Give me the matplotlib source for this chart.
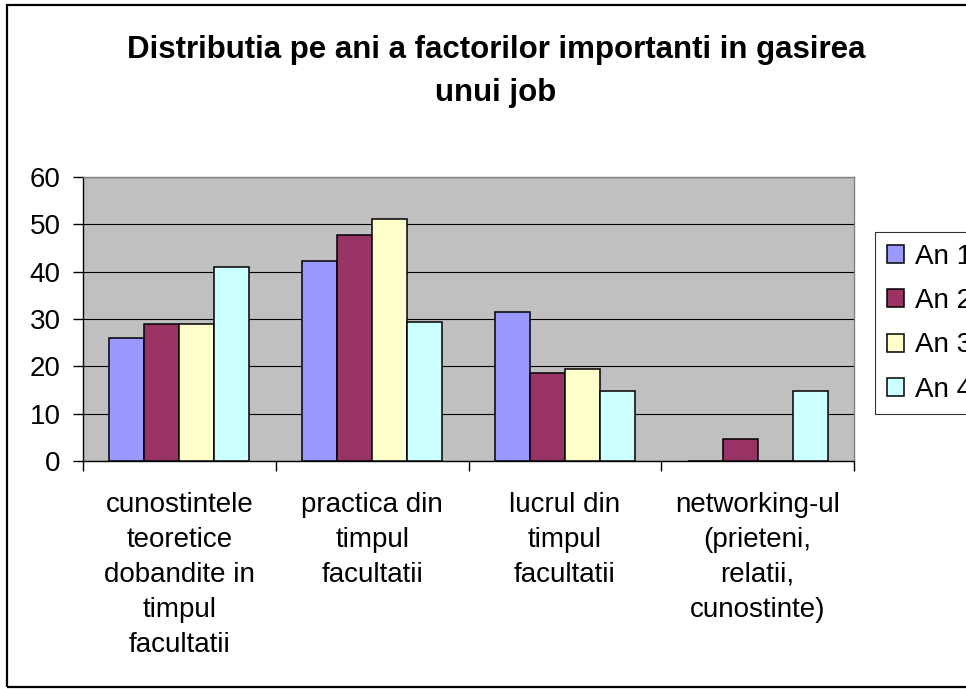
import numpy as np
import matplotlib
matplotlib.use("Agg")
import matplotlib.pyplot as plt
from matplotlib.patches import Rectangle, Patch

# =========================
# DATA
# =========================
categories = [
    "cunostintele\nteoretice\ndobandite in\ntimpul\nfacultatii",
    "practica din\ntimpul\nfacultatii",
    "lucrul din\ntimpul\nfacultatii",
    "networking-ul\n(prieteni,\nrelatii,\ncunostinte)",
]
series_names = ["An 1", "An 2", "An 3", "An 4"]
an1 = [26, 42.3, 31.5, 0]
an2 = [29, 47.7, 18.6, 4.7]
an3 = [29, 51.1, 19.4, 0]
an4 = [41, 29.4, 14.8, 14.8]
y_ticks = [0, 10, 20, 30, 40, 50, 60]

colors = ["#9999FF", "#993366", "#FFFFCC", "#CCFFFF"]
title = "Distributia pe ani a factorilor importanti in gasirea\nunui job"

# =========================
# PLOT
# =========================
plt.rcParams["font.family"] = ["Liberation Sans", "DejaVu Sans"]

W, H = 966, 689
fig = plt.figure(figsize=(W / 100, H / 100), dpi=100)

# chart border (right side runs off the picture)
fig.patches.append(Rectangle((7 / W, 1 - 687 / H), 2.0, (687 - 5) / H,
                             transform=fig.transFigure, fill=False,
                             edgecolor="black", linewidth=1.6))

ax = fig.add_axes([83 / W, 1 - 461 / H, (854 - 83) / W, (461 - 177) / H])
ax.set_facecolor("#C0C0C0")

x = np.arange(len(categories))
w = 1 / 5.5
all_series = [an1, an2, an3, an4]
for i, vals in enumerate(all_series):
    ax.bar(x + (i - 1.5) * w, vals, width=w, color=colors[i],
           edgecolor="black", linewidth=1.1, zorder=3)

ax.set_xlim(-0.5, len(categories) - 0.5)
ax.set_ylim(0, 60)
ax.set_yticks(y_ticks)
ax.set_yticklabels([str(t) for t in y_ticks], fontsize=20)
ax.yaxis.grid(True, color="black", linewidth=0.8, zorder=1)
ax.set_axisbelow(True)

ax.set_xticks(x)
ax.set_xticklabels(categories, fontsize=20, linespacing=1.45, va="top")
ax.set_xticks(np.arange(len(categories) + 1) - 0.5, minor=True)
ax.tick_params(axis="x", which="major", length=0, pad=22)
ax.tick_params(axis="x", which="minor", length=7, width=1, direction="out")
ax.tick_params(axis="y", length=7, width=1, direction="out", pad=9)

for side in ["top", "right"]:
    ax.spines[side].set_color("#808080")
    ax.spines[side].set_linewidth(1.0)
for side in ["left", "bottom"]:
    ax.spines[side].set_color("black")
    ax.spines[side].set_linewidth(1.0)

fig.text(496 / W, 1 - 35 / H, title, ha="center", va="top",
         fontsize=22.5, fontweight="bold", linespacing=1.55)

# legend runs off the right edge, as in the original
handles = [Patch(facecolor=c, edgecolor="black", linewidth=1.1) for c in colors]
leg = fig.legend(handles, series_names, loc="upper left",
                 bbox_to_anchor=(875 / W, 1 - 232 / H), fontsize=20,
                 frameon=True, fancybox=False, handlelength=0.62,
                 handleheight=0.62, handletextpad=0.4, borderpad=0.42,
                 labelspacing=0.66, borderaxespad=0)
leg.get_frame().set_edgecolor("black")
leg.get_frame().set_linewidth(0.8)

fig.savefig("out.png", dpi=100)
plt.close(fig)
